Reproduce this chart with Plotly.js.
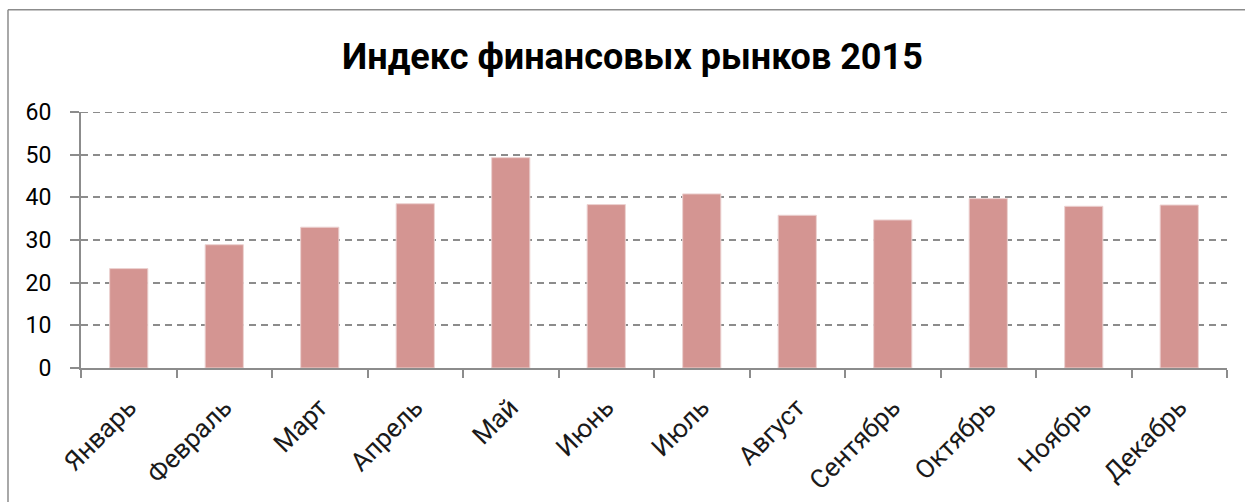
<!DOCTYPE html>
<html>
<head>
<meta charset="utf-8">
<script src="https://cdn.plot.ly/plotly-3.0.1.min.js"></script>
<style>
  html, body { margin: 0; padding: 0; background: #fff; overflow: hidden; }
  #chart { width: 1245px; height: 502px; }
</style>
</head>
<body>
<div id="chart"></div>
<script>
const chartTitle = "Индекс финансовых рынков 2015";
const months = ["Январь", "Февраль", "Март", "Апрель", "Май", "Июнь", "Июль", "Август", "Сентябрь", "Октябрь", "Ноябрь", "Декабрь"];
const values = [23.3, 28.9, 33.0, 38.5, 49.3, 38.3, 40.8, 35.8, 34.7, 39.7, 37.9, 38.2];
const yTicks = [0, 10, 20, 30, 40, 50, 60];

const fontFamily = "Roboto, 'DejaVu Sans', sans-serif";
const axisGray = "#8c8c8c";
const yMax = yTicks[yTicks.length - 1];

const data = [{
  type: "bar",
  x: months,
  y: values,
  marker: { color: "#d49592", line: { color: "#ecd2d1", width: 1 } },
  hoverinfo: "x+y"
}];

const layout = {
  width: 1245,
  height: 502,
  paper_bgcolor: "#ffffff",
  plot_bgcolor: "#ffffff",
  margin: { l: 81, r: 18, t: 112, b: 134, pad: 0 },
  showlegend: false,
  bargap: 0.6,
  title: {
    text: "<b>" + chartTitle + "</b>",
    font: { family: fontFamily, size: 36, color: "#000000" },
    x: 0.508,
    xanchor: "center",
    y: 0.887,
    yanchor: "middle"
  },
  xaxis: {
    type: "category",
    tickangle: -45,
    tickson: "boundaries",
    ticks: "outside",
    ticklen: 8,
    tickwidth: 2,
    tickcolor: axisGray,
    ticklabelstandoff: 12,
    showline: true,
    linecolor: axisGray,
    linewidth: 2,
    showgrid: false,
    tickfont: { family: fontFamily, size: 26, color: "#1a1a1a" },
    fixedrange: true
  },
  yaxis: {
    range: [0, yMax],
    tickvals: yTicks,
    ticktext: yTicks.map(String),
    ticks: "outside",
    ticklen: 9,
    tickwidth: 2,
    tickcolor: axisGray,
    ticklabelstandoff: 14,
    showline: true,
    linecolor: axisGray,
    linewidth: 2,
    showgrid: true,
    gridcolor: axisGray,
    gridwidth: 2,
    griddash: "7px,5px",
    zeroline: false,
    tickfont: { family: fontFamily, size: 23, color: "#000000" },
    fixedrange: true
  },
  shapes: [
    { type: "line", xref: "paper", yref: "y", x0: 0, x1: 1, y0: yMax, y1: yMax,
      line: { color: axisGray, width: 2, dash: "7px,5px" } },
    { type: "line", xref: "paper", yref: "paper", x0: -0.0637, x1: -0.0637, y0: 1.3996, y1: -0.56,
      line: { color: axisGray, width: 1.5 } },
    { type: "line", xref: "paper", yref: "paper", x0: -0.0637, x1: 1.03, y0: 1.3996, y1: 1.3996,
      line: { color: axisGray, width: 1.5 } }
  ]
};

Plotly.newPlot("chart", data, layout, { displayModeBar: false, staticPlot: true });
</script>
</body>
</html>
